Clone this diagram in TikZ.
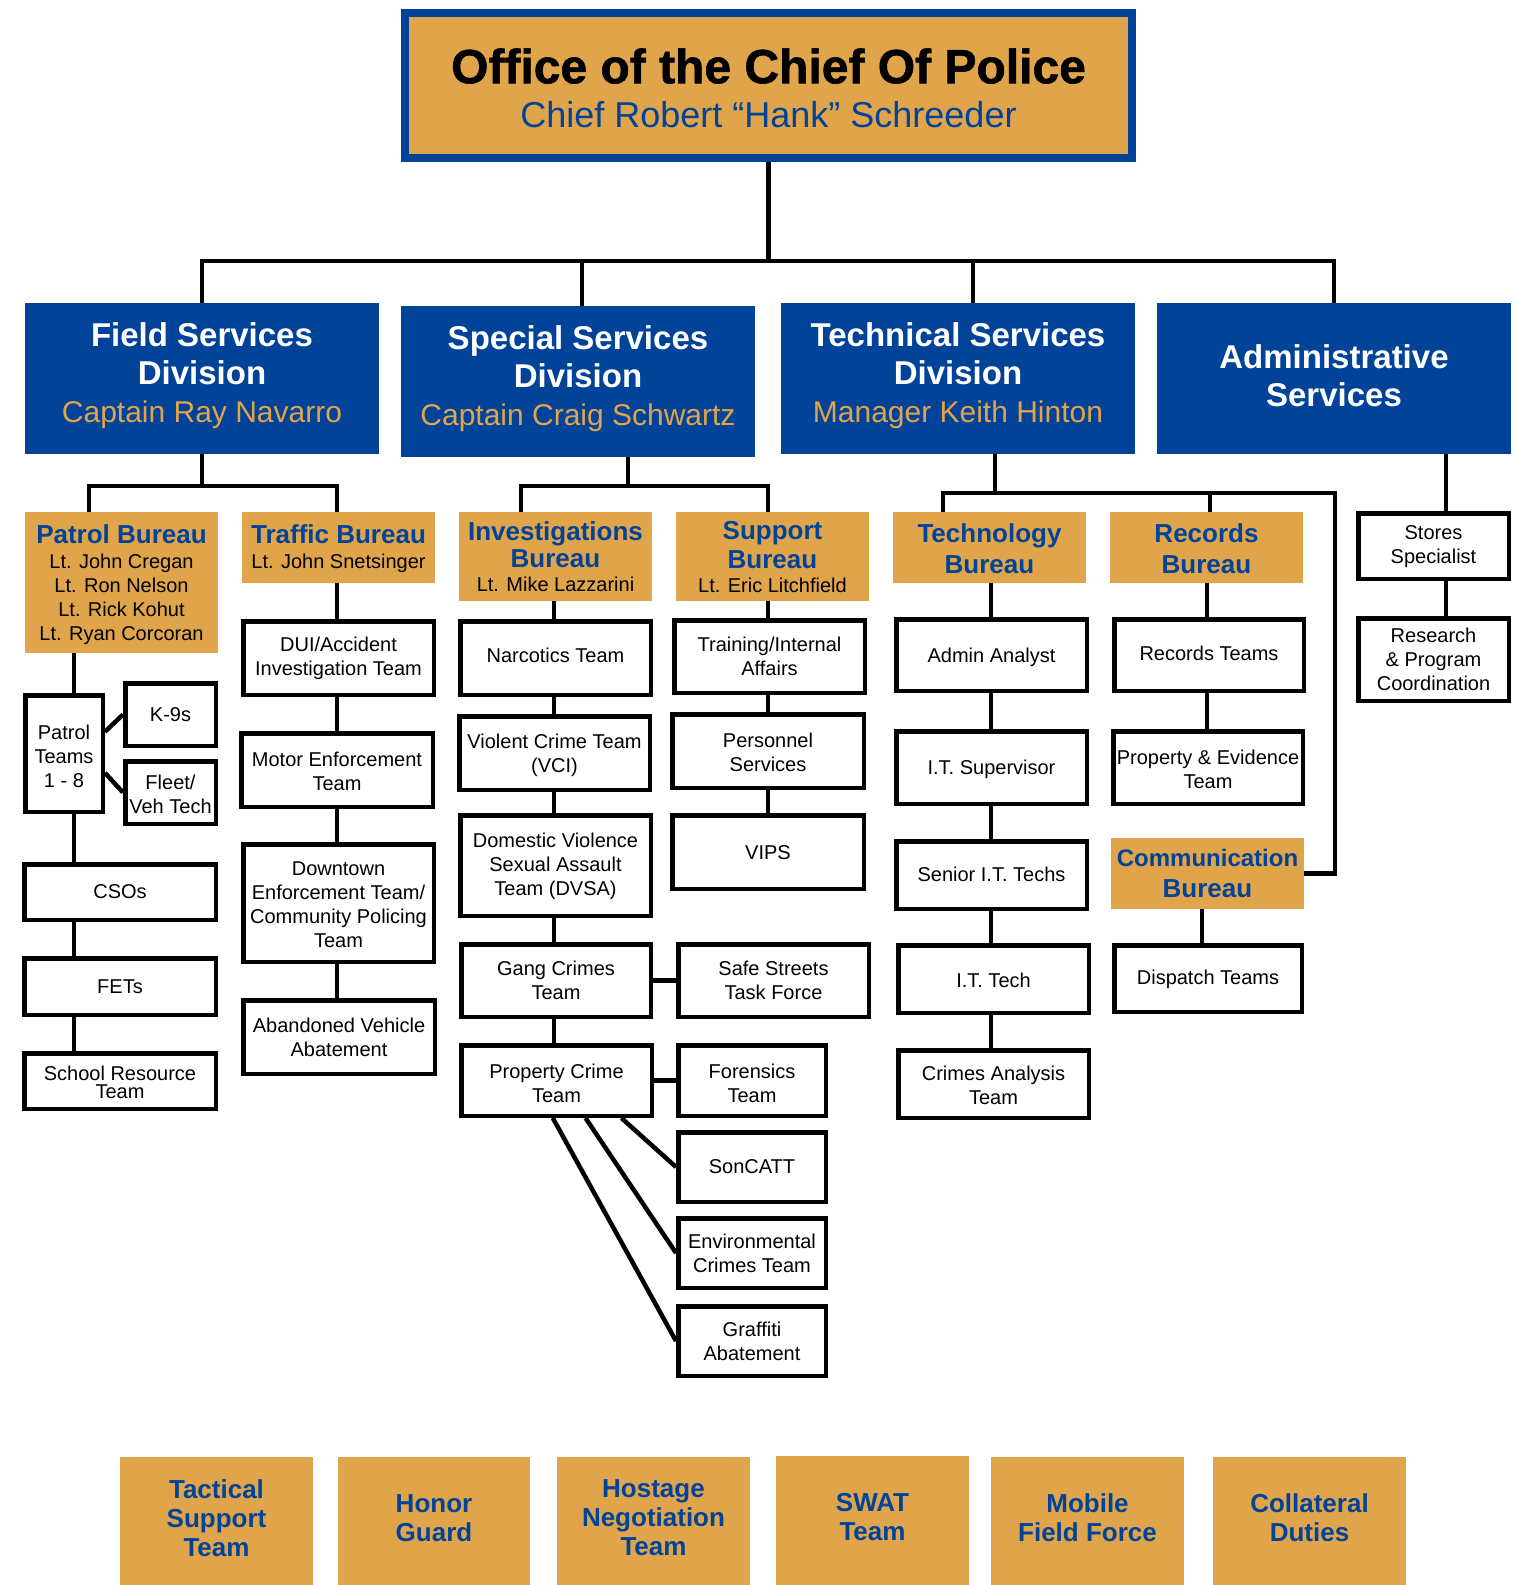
\documentclass[tikz,border=0pt]{standalone}
\usepackage{fontspec}
\setmainfont{Liberation Sans}
\newfontfamily\heavyfont{Liberation Sans Bold}[FakeBold=1.2]
\usetikzlibrary{calc}
\definecolor{pblue}{RGB}{0,67,152}
\definecolor{porange}{RGB}{224,165,75}
\pgfdeclarelayer{back}
\pgfdeclarelayer{bg}
\pgfsetlayers{back,bg,main}
\newcommand\fsz[2]{\fontsize{#1}{#2}\selectfont}
% [dy] style-prefix inset name x1 y1 x2 y2 text
\newcommand\MkBox[9][0]{%
  \node[#2box, minimum width={#7-#5-#3}, minimum height={#8-#6-#3}] (#4) at ({(#5+#7)/2},{(#6+#8)/2}) {};
  \node[#2txt, yshift=#1pt] (#4-t) at (#4.center) {#9};}
\newcommand\WBox[7][0]{\MkBox[#1]{w}{4.5}{#2}{#3}{#4}{#5}{#6}{#7}}
\newcommand\OBox[7][0]{\MkBox[#1]{o}{0}{#2}{#3}{#4}{#5}{#6}{#7}}
\newcommand\DBox[7][0]{\MkBox[#1]{d}{0}{#2}{#3}{#4}{#5}{#6}{#7}}
\newcommand\BBox[7][0]{\MkBox[#1]{b}{0}{#2}{#3}{#4}{#5}{#6}{#7}}
\newcommand\btl[1]{{\color{pblue}\fsz{26}{27}\bfseries #1}}
\newcommand\dtl[1]{{\color{white}\fsz{33}{38}\bfseries #1}}
\tikzset{
  conn/.style={line width=4.5pt, draw=black},
  wbox/.style={draw=black, line width=4.5pt, fill=white, inner sep=0pt},
  wtxt/.style={align=center, inner sep=0pt, text=black, font=\fsz{20}{24}},
  sbox/.style={wbox},
  stxt/.style={align=center, inner sep=0pt, text=black, font=\fsz{20}{18}},
  obox/.style={fill=porange, inner sep=0pt},
  otxt/.style={align=center, inner sep=0pt, text=black, font=\fsz{20}{24}},
  dbox/.style={fill=pblue, inner sep=0pt},
  dtxt/.style={align=center, inner sep=0pt, text=porange, font=\fsz{30}{38}},
  bbox/.style={fill=porange, inner sep=0pt},
  btxt/.style={align=center, inner sep=0pt, text=pblue, font=\fsz{26}{29}\bfseries},
  chiefbox/.style={draw=pblue, line width=8pt, fill=porange, inner sep=0pt},
  chieftxt/.style={align=center, inner sep=0pt, text=black, font=\fsz{36}{44}}
}
\begin{document}
\begin{tikzpicture}[x=1pt, y=-1pt]
\begin{pgfonlayer}{back}
\fill[white] (0,0) rectangle (1518,1585);
\end{pgfonlayer}
\useasboundingbox (0,0) rectangle (1518,1585);

% chief
\MkBox[-2.5]{chief}{8}{chief}{401}{9}{1136}{162}{{\heavyfont\fsz{48}{44}Office of the Chief Of Police}\\{\color{pblue}Chief Robert “Hank” Schreeder}}

% divisions
\DBox[3]{field}{25}{303}{379}{454}{\dtl{Field Services}\\\dtl{Division}\\Captain Ray Navarro}
\DBox[3]{special}{401}{306}{755}{457}{\dtl{Special Services}\\\dtl{Division}\\Captain Craig Schwartz}
\DBox[3]{tech}{781}{303}{1135}{454}{\dtl{Technical Services}\\\dtl{Division}\\Manager Keith Hinton}
\DBox[3]{admin}{1157}{303}{1511}{454}{\dtl{Administrative}\\\dtl{Services}}

% bureaus
\OBox[-2.5]{patrol}{25}{512}{218}{653}{\btl{Patrol Bureau}\\[1pt]Lt. John Cregan\\Lt. Ron Nelson\\Lt. Rick Kohut\\Lt. Ryan Corcoran}
\OBox[-1.5]{traffic}{242}{512}{435}{583}{\btl{Traffic Bureau}\\[1pt]Lt. John Snetsinger}
\OBox{invest}{459}{512}{652}{601}{\btl{Investigations}\\[3pt]\btl{Bureau}\\Lt. Mike Lazzarini}
\OBox[-1]{support}{676}{512}{869}{601}{\btl{Support}\\[5pt]\btl{Bureau}\\Lt. Eric Litchfield}
\OBox[-1]{techb}{893}{512}{1086}{583}{\btl{Technology}\\[7pt]\btl{Bureau}}
\OBox[-1]{records}{1110}{512}{1303}{583}{\btl{Records}\\[7pt]\btl{Bureau}}
\OBox{comm}{1111}{838}{1304}{909}{{\color{pblue}\fsz{24}{27}\bfseries Communication}\\[7pt]\btl{Bureau}}

% field services column
\WBox[-3]{pteams}{23}{693}{105}{814}{Patrol\\Teams\\1 - 8}
\WBox{k9}{123}{681}{218}{748}{K-9s}
\WBox[-2]{fleet}{123}{759}{218}{826}{Fleet/\\Veh Tech}
\WBox{csos}{22}{862}{218}{922}{CSOs}
\WBox{fets}{22}{956}{218}{1017}{FETs}
\MkBox[-1]{s}{4.5}{school}{22}{1051}{218}{1111}{School Resource\\Team}
\WBox{dui}{241}{619}{436}{697}{DUI/Accident\\Investigation Team}
\WBox[-1]{motor}{239}{731}{435}{809}{Motor Enforcement\\Team}
\WBox[-2]{downtown}{241}{842}{436}{964}{Downtown\\Enforcement Team/\\Community Policing\\Team}
\WBox{abandoned}{241}{998}{437}{1076}{Abandoned Vehicle\\Abatement}

% special services column
\WBox[3]{narc}{458}{619}{653}{697}{Narcotics Team}
\WBox[-2]{vci}{457}{714}{652}{792}{Violent Crime Team\\(VCI)}
\WBox[-1]{dvsa}{458}{813}{653}{918}{Domestic Violence\\Sexual Assault\\Team (DVSA)}
\WBox{gang}{459}{942}{653}{1019}{Gang Crimes\\Team}
\WBox{safe}{676}{942}{871}{1019}{Safe Streets\\Task Force}
\WBox[-2.5]{property}{459}{1043}{654}{1118}{Property Crime\\Team}
\WBox[-2.5]{forensics}{676}{1043}{828}{1118}{Forensics\\Team}
\WBox{soncatt}{676}{1130}{828}{1204}{SonCATT}
\WBox{env}{676}{1216}{828}{1290}{Environmental\\Crimes Team}
\WBox{graffiti}{676}{1304}{828}{1378}{Graffiti\\Abatement}
\WBox{training}{672}{618}{867}{695}{Training/Internal\\Affairs}
\WBox[-1]{personnel}{670}{712}{866}{790}{Personnel\\Services}
\WBox[-1]{vips}{670}{813}{866}{891}{VIPS}

% technical services column
\WBox[-2]{admina}{894}{617}{1089}{693}{Admin Analyst}
\WBox[-2]{itsup}{894}{729}{1089}{806}{I.T. Supervisor}
\WBox[1]{senior}{894}{839}{1089}{911}{Senior I.T. Techs}
\WBox[-1]{ittech}{896}{943}{1091}{1015}{I.T. Tech}
\WBox[-1]{crimes}{896}{1048}{1091}{1120}{Crimes Analysis\\Team}
\WBox[2]{rteams}{1112}{617}{1306}{693}{Records Teams}
\WBox[-2]{propev}{1111}{729}{1305}{806}{Property \& Evidence\\Team}
\WBox[-1]{dispatch}{1112}{943}{1304}{1014}{Dispatch Teams}

% administrative column
\WBox[-1]{stores}{1356}{511}{1511}{581}{Stores\\Specialist}
\WBox{research}{1356}{616}{1511}{703}{Research\\\& Program\\Coordination}

% collateral duties row
\BBox[3]{tst}{120}{1457}{313}{1585}{Tactical\\Support\\Team}
\BBox[3]{honor}{338}{1457}{530}{1585}{Honor\\Guard}
\BBox[3]{hostage}{557}{1457}{750}{1585}{Hostage\\Negotiation\\Team}
\BBox[3]{swat}{776}{1456}{969}{1585}{SWAT\\Team}
\BBox[3]{mobile}{991}{1457}{1184}{1585}{Mobile\\Field Force}
\BBox[3]{collat}{1213}{1457}{1406}{1585}{Collateral\\Duties}

% connectors
\coordinate (barY) at (0,261);
\coordinate (sdrop) at (582,261);
\coordinate (tdrop) at (973,261);
\coordinate (fbar) at (0,486);
\coordinate (pdrop) at (89,486);
\coordinate (pcol) at (74,0);
\coordinate (tcol) at (337,0);
\coordinate (sd2) at (628,486);
\coordinate (ib) at (521,486);
\coordinate (sb) at (768,486);
\coordinate (icol) at (554,0);
\coordinate (supcol) at (768,0);
\coordinate (tsd) at (995,493);
\coordinate (tbarL) at (943,493);
\coordinate (tbarR) at (1335,493);
\coordinate (recdrop) at (1210,493);
\coordinate (tccol) at (991,0);
\coordinate (rcol) at (1207,0);
\coordinate (cdcol) at (1202,0);
\coordinate (acol) at (1446,0);

\begin{pgfonlayer}{bg}
\draw[conn] (chief.south) -- (chief.south |- barY);
\draw[conn] (field.north) -- (field.north |- barY) -- (admin.north |- barY) -- (admin.north);
\draw[conn] (sdrop) -- (sdrop |- special.north);
\draw[conn] (tdrop) -- (tdrop |- tech.north);
% field services
\draw[conn] (field.south) -- (field.south |- fbar);
\draw[conn] (pdrop |- patrol.north) -- (pdrop) -- (tcol |- fbar) -- (tcol |- traffic.north);
\draw[conn] (pcol |- patrol.south) -- (pcol |- school.north);
\draw[conn] ($(pteams.north east)!0.32!(pteams.south east)$) -- (k9.west);
\draw[conn] ($(pteams.north east)!0.66!(pteams.south east)$) -- (fleet.west);
\draw[conn] (tcol |- traffic.south) -- (tcol |- abandoned.north);
% special services
\draw[conn] (sd2 |- special.south) -- (sd2);
\draw[conn] (ib |- invest.north) -- (ib) -- (sb) -- (sb |- support.north);
\draw[conn] (icol |- invest.south) -- (icol |- property.north);
\draw[conn] (gang.east) -- (safe.west);
\draw[conn] (property.east) -- (forensics.west);
\draw[conn] ($(property.south west)!0.833!(property.south east)$) -- (soncatt.west);
\draw[conn] ($(property.south west)!0.649!(property.south east)$) -- (env.west);
\draw[conn] ($(property.south west)!0.481!(property.south east)$) -- (graffiti.west);
\draw[conn] (supcol |- support.south) -- (supcol |- vips.north);
% technical services
\draw[conn] (tsd |- tech.south) -- (tsd);
\draw[conn] (tbarL |- techb.north) -- (tbarL) -- (tbarR) -- (tbarR |- comm.east) -- (comm.east);
\draw[conn] (recdrop) -- (recdrop |- records.north);
\draw[conn] (tccol |- techb.south) -- (tccol |- crimes.north);
\draw[conn] (rcol |- records.south) -- (rcol |- propev.north);
\draw[conn] (cdcol |- comm.south) -- (cdcol |- dispatch.north);
% administrative
\draw[conn] (acol |- admin.south) -- (acol |- research.north);
\end{pgfonlayer}
\end{tikzpicture}
\end{document}
